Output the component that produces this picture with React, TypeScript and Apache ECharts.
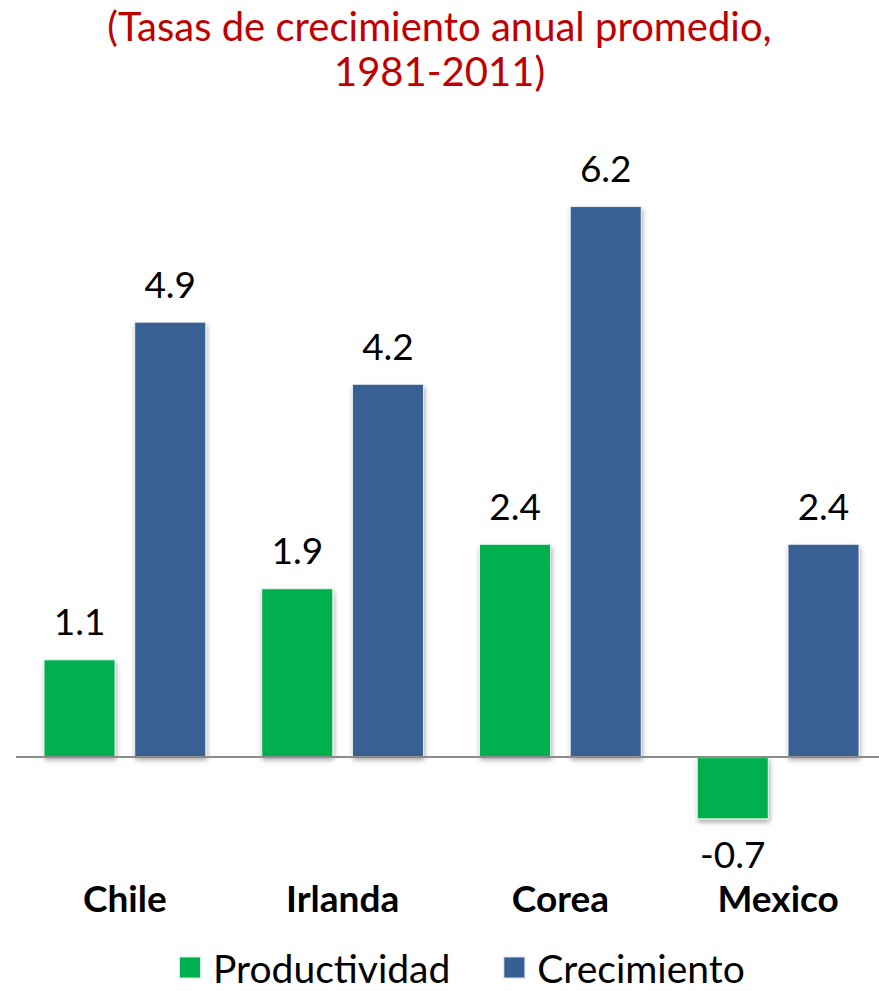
import React, { useEffect, useRef } from "react";
import * as echarts from "echarts";

const titleLines = ["(Tasas de crecimiento anual promedio,", "1981-2011)"];
const categories = ["Chile", "Irlanda", "Corea", "Mexico"];
const productividad = [1.1, 1.9, 2.4, -0.7];
const crecimiento = [4.9, 4.2, 6.2, 2.4];
const seriesNames = ["Productividad", "Crecimiento"];
const colors = ["#00B050", "#376092"];

const FONT = "Lato, 'Open Sans', sans-serif";

export default function App() {
  const ref = useRef<HTMLDivElement>(null);
  useEffect(() => {
    document.body.style.margin = "0";
    const chart = echarts.init(ref.current!, null, { renderer: "svg" });
    const makeData = (vals: number[]) =>
      vals.map((v) => ({
        value: v,
        label: { position: v < 0 ? "bottom" : "top", distance: v < 0 ? 16 : 20 },
      }));
    const itemStyle = (c: string) => ({
      color: c,
      borderColor: "rgba(255,255,255,0.8)",
      borderWidth: 1,
      shadowColor: "rgba(0,0,0,0.35)",
      shadowBlur: 5,
      shadowOffsetX: 1,
      shadowOffsetY: 3,
    });
    const label = {
      show: true,
      fontSize: 37,
      fontFamily: FONT,
      color: "#000",
      formatter: (p: any) => String(p.value),
    };
    chart.setOption({
      animation: false,
      title: {
        text: titleLines.join("\n"),
        left: "center",
        top: -2,
        textStyle: {
          color: "#C00000",
          fontSize: 40,
          fontWeight: "normal",
          fontFamily: FONT,
          lineHeight: 45,
        },
      },
      legend: {
        top: 948,
        left: 178,
        padding: 0,
        itemWidth: 22,
        itemHeight: 22,
        itemGap: 52,
        icon: "rect",
        textStyle: {
          fontSize: 39,
          lineHeight: 36,
          fontFamily: FONT,
          color: "#000",
          padding: [0, 0, 0, 7],
        },
        data: seriesNames,
      },
      grid: { left: 16, width: 871, top: 135, bottom: 145, outerBoundsMode: "none" },
      xAxis: {
        type: "category",
        data: categories,
        axisLine: { show: false },
        axisTick: { show: false },
        axisLabel: {
          fontSize: 37,
          fontWeight: "bold",
          fontFamily: FONT,
          color: "#000",
          margin: 33,
        },
      },
      yAxis: {
        type: "value",
        min: -1,
        max: 7,
        show: false,
        splitLine: { show: false },
      },
      series: [
        {
          name: seriesNames[0],
          type: "bar",
          data: makeData(productividad),
          barWidth: 72,
          barGap: "26%",
          itemStyle: itemStyle(colors[0]),
          label,
          markLine: {
            silent: true,
            symbol: "none",
            label: { show: false },
            lineStyle: { color: "#8c8c8c", width: 2, type: "solid" },
            data: [{ yAxis: 0 }],
          },
        },
        {
          name: seriesNames[1],
          type: "bar",
          data: makeData(crecimiento),
          barWidth: 72,
          itemStyle: itemStyle(colors[1]),
          label,
        },
      ],
    });
    return () => chart.dispose();
  }, []);
  return <div ref={ref} style={{ width: 879, height: 991, overflow: "hidden" }} />;
}
